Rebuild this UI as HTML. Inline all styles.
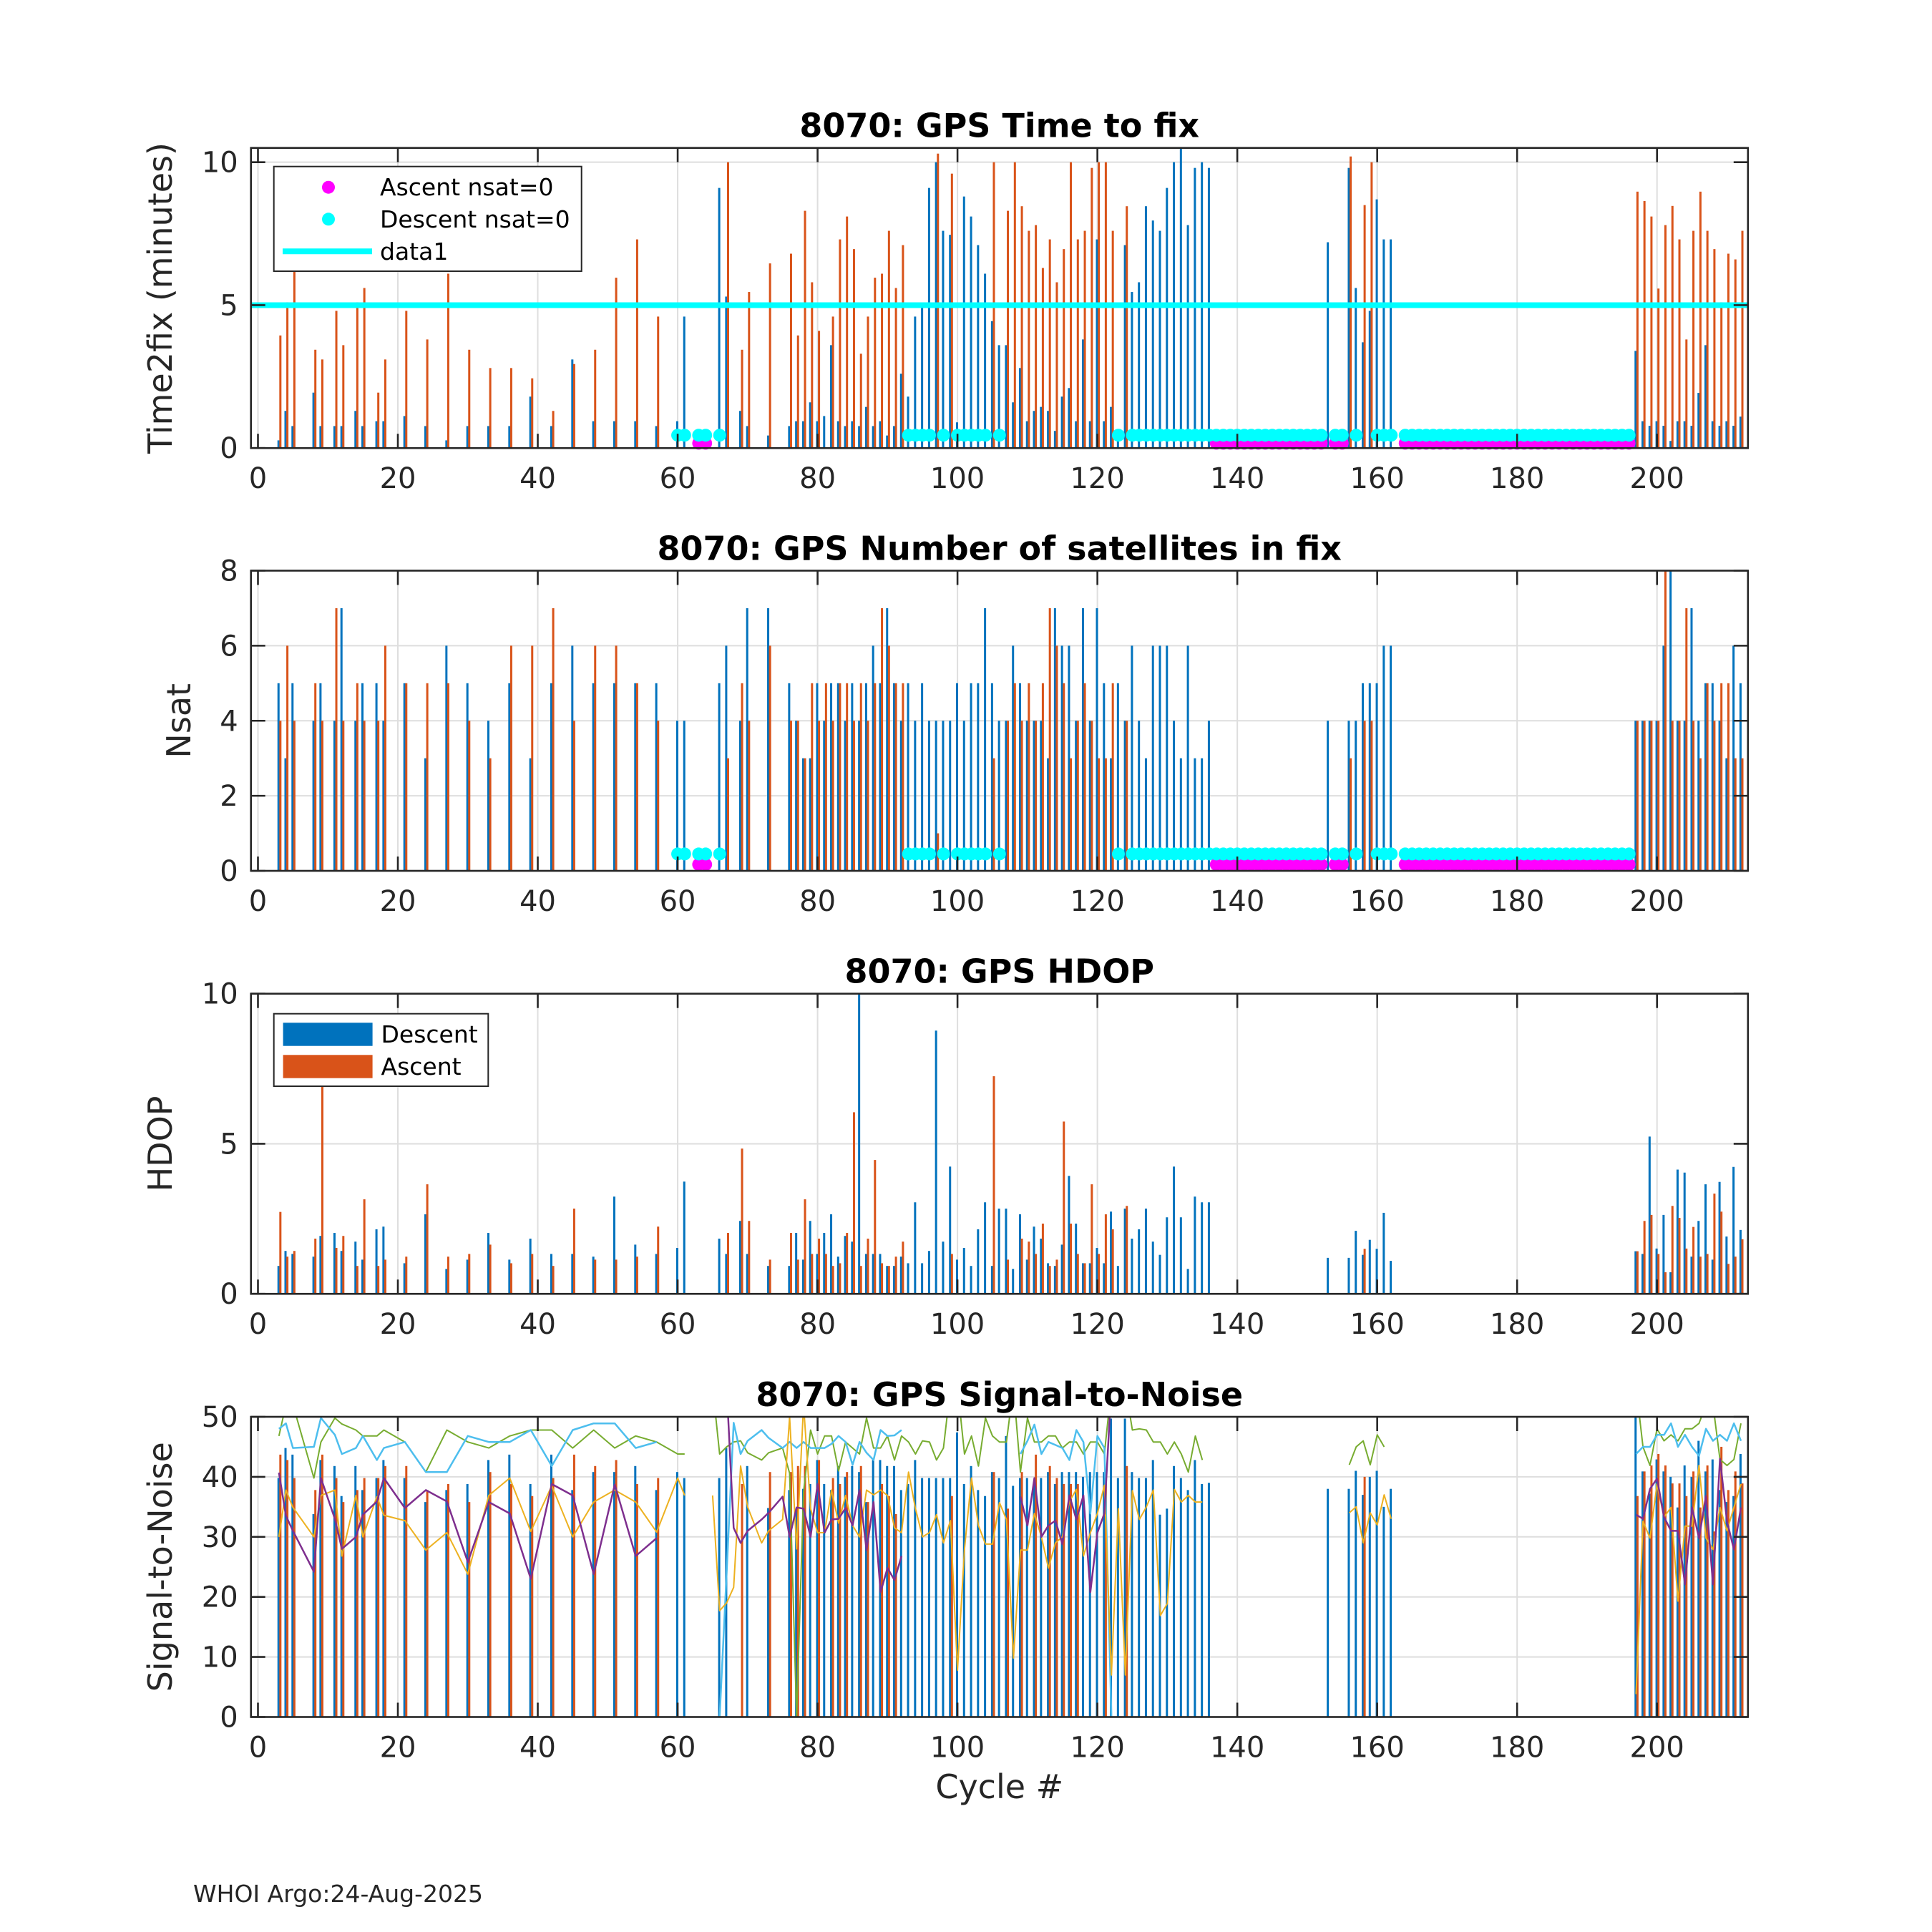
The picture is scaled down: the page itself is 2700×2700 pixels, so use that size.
<!DOCTYPE html>
<html>
<head>
<meta charset="utf-8">
<title>8070 GPS diagnostics</title>
<style>
  html,body{margin:0;padding:0;background:#fff;}
  svg{display:block;}
  text{font-family:"DejaVu Sans","Liberation Sans",sans-serif;fill:#262626;}
</style>
</head>
<body>
<svg id="chart" xmlns="http://www.w3.org/2000/svg" width="2700" height="2700" viewBox="0 0 2700 2700">
  <rect x="0" y="0" width="2700" height="2700" fill="#ffffff"/>
  <defs>
    <clipPath id="clip0"><rect x="350.7" y="206.7" width="2092.1" height="419.5"/></clipPath>
    <clipPath id="clip1"><rect x="350.7" y="797.5" width="2092.1" height="419.5"/></clipPath>
    <clipPath id="clip2"><rect x="350.7" y="1388.7" width="2092.1" height="419.5"/></clipPath>
    <clipPath id="clip3"><rect x="350.7" y="1980" width="2092.1" height="419.5"/></clipPath>
  </defs>
  <text x="270" y="2658" font-size="33">WHOI Argo:24-Aug-2025</text>
  <text x="1396.8" y="2513" font-size="46" text-anchor="middle">Cycle #</text>
</svg>
<script>
// ---------- categories ----------
function range(a,b){const r=[];for(let i=a;i<=b;i++)r.push(i);return r;}
const barCycles = [3,4,5,8,9,11,12,14,15,17,18,21,24,27,30,33,36,39,42,45,48,51,54,57,60,61,
  66,67,69,70,73].concat(range(76,136)).concat([153,156,157,158,159,160,161,162]).concat(range(197,212));
const lineCycles = [3,4,5,8,9,11,12,14,15,17,18,21,24,27,30,33,36,39,42,45,48,51,54,57,60,61,
  63,65,66,67,68,69,70,72,73,75].concat(range(76,136)).concat(range(156,162)).concat(range(197,212));
const xTicks = [0,20,40,60,80,100,120,140,160,180,200];

// ---------- Time to fix ----------
const t2fDescent = [0.27,1.3,0.77,1.94,0.77,0.77,0.77,1.3,0.77,0.94,0.94,1.12,0.77,0.27,0.77,0.77,0.77,1.8,0.77,3.1,0.94,0.94,0.94,0.77,0.94,4.6,
  9.1,5.3,1.3,0.77,0.44,
  0.77,0.94,0.94,1.6,0.94,1.12,3.6,0.94,0.77,0.94,
  0.77,1.44,0.77,0.94,0.44,0.77,2.6,1.8,4.6,4.96,
  9.1,10.0,7.6,7.46,0.9,8.8,8.1,7.1,6.1,4.44,
  3.6,3.6,1.6,2.8,0.94,1.3,1.44,1.3,0.6,1.8,
  2.1,0.94,3.8,0.94,7.3,0.94,1.44,0.5,7.1,5.46,
  5.8,8.46,7.96,7.6,9.1,10.0,10.5,7.8,9.8,10.0,
  9.8,
  7.2,9.8,5.6,3.7,4.8,8.7,7.3,7.3,
  3.4,0.94,0.78,0.94,0.78,0.25,0.94,0.94,0.78,1.93,3.6,0.94,0.78,0.94,0.78,1.1];
const t2fAscent = [3.94,5.1,6.2,3.44,3.1,4.8,3.6,5.1,5.6,1.94,3.1,4.8,3.8,6.1,3.44,2.8,2.8,2.44,1.3,2.94,3.44,5.96,7.3,4.6,null,null,
  null,10.0,3.44,5.46,6.46,
  6.8,3.94,8.3,5.8,4.1,null,4.6,7.3,8.1,6.96,
  3.3,4.6,5.96,6.1,7.6,5.6,7.1,null,null,null,
  null,10.3,null,9.6,null,null,null,null,null,10.0,
  null,8.3,10.0,8.46,7.6,7.8,6.3,7.3,5.8,6.96,
  10.0,7.3,7.6,9.8,10.0,10.0,7.6,null,8.46,null,
  null,null,null,null,null,null,null,null,null,null,
  null,
  null,10.2,null,8.5,10.0,null,null,null,
  8.97,8.64,8.1,5.58,7.8,8.47,7.3,3.8,7.6,8.97,7.6,6.96,5.1,6.8,6.6,7.6];
const timeoutLevel = [5];
const descentZeroCycles = [60,61,63,64,66,93,94,95,96,98,100,101,102,103,104,106,123].concat(range(125,152)).concat([154,155,157,160,161,162]).concat(range(164,196));
const ascentZeroCycles = [63,64].concat(range(137,152)).concat([154,155]).concat(range(164,196));
const descentZeroLevel = 0.45;
const ascentZeroLevel = 0.17;

// ---------- Nsat ----------
const nsatDescent = [5,3,5,4,5,4,7,4,5,5,4,5,3,6,5,4,5,3,5,6,5,5,5,5,4,4,
  5,6,4,7,7,
  5,4,3,3,5,4,5,5,4,5,
  4,5,6,5,7,5,4,5,4,5,
  4,4,4,4,5,4,5,5,7,5,
  4,4,6,5,4,4,4,3,7,6,
  6,4,7,4,7,5,3,5,4,6,
  4,3,6,6,6,4,3,6,3,3,
  4,
  4,4,4,5,5,5,6,6,
  4,4,4,4,6,8,4,4,7,4,5,5,4,3,6,5];
const nsatAscent = [4,6,4,5,4,7,4,5,4,4,6,5,5,5,4,3,6,6,7,4,6,6,5,4,null,null,
  null,3,5,4,6,
  4,4,3,5,4,5,4,5,5,4,
  5,4,5,7,6,5,5,null,null,null,
  null,1,null,null,null,null,null,null,null,3,
  null,4,5,4,5,4,5,7,6,5,
  3,4,5,4,3,3,5,null,4,null,
  null,null,null,null,null,null,null,null,null,null,
  null,
  null,3,null,4,4,null,null,null,
  4,4,4,4,8,4,4,7,4,3,5,4,5,5,3,3];

// ---------- HDOP ----------
const hdopDescent = [0.93,1.43,1.33,1.24,1.93,2.03,1.43,1.74,1.14,2.15,2.24,1.02,2.65,0.83,1.14,2.03,1.14,1.84,1.33,1.33,1.24,3.24,1.64,1.33,1.53,3.74,
  1.84,1.33,2.43,1.33,0.93,
  0.93,2.03,1.14,2.43,1.33,2.03,2.65,1.24,1.93,1.74,
  10.5,1.33,1.33,1.33,0.93,0.93,1.24,1.02,3.05,1.02,
  1.43,8.77,1.74,4.24,1.14,1.53,0.93,2.15,3.05,0.93,
  2.84,2.84,0.83,2.65,1.14,2.24,1.84,1.02,0.93,1.64,
  3.93,2.34,1.02,1.02,1.53,1.02,2.74,0.93,2.84,1.84,
  2.15,2.84,1.74,1.3,2.55,4.24,2.55,0.83,3.24,3.05,
  3.05,
  1.2,1.2,2.1,1.3,1.8,1.5,2.7,1.1,
  1.42,1.33,5.24,1.51,2.63,0.72,4.14,4.04,1.24,2.43,3.65,1.14,3.73,1.91,4.23,2.13];
const hdopAscent = [2.73,1.24,1.43,1.84,7.0,1.53,1.93,0.93,3.15,0.93,1.14,1.24,3.65,1.24,1.33,1.64,1.02,1.33,0.93,2.84,1.14,1.14,1.24,2.24,null,null,
  null,2.03,4.84,2.43,1.14,
  2.03,1.14,3.15,1.33,1.84,1.33,0.93,1.02,2.03,6.05,
  0.93,1.84,4.46,1.02,0.93,1.24,1.74,null,null,null,
  null,null,null,1.33,null,null,null,null,null,7.25,
  null,1.14,null,1.84,1.74,1.33,2.34,0.93,1.14,5.74,
  2.34,1.33,1.02,3.65,1.33,2.65,2.15,null,2.93,null,
  null,null,null,null,null,null,null,null,null,null,
  null,
  null,null,null,1.5,null,null,null,null,
  1.42,2.43,2.63,1.33,0.72,2.93,2.53,1.51,2.23,1.24,1.33,3.34,2.74,1.0,1.24,1.82];

// ---------- Signal-to-noise ----------
const snrDescent = [39.8,44.8,43.7,33.8,42.8,41.8,36.8,41.8,37.8,39.8,42.8,39.8,35.8,37.8,38.8,42.8,43.7,38.8,43.7,37.8,40.8,40.8,41.8,37.8,40.8,39.8,
  39.8,44.8,null,41.8,34.8,
  37.8,34.7,38,38.8,42.8,38.8,37.8,41.8,40,41.8,
  40.8,35.8,42.8,42.8,41.8,41.8,37.8,38.8,42.8,39.8,
  39.8,39.8,39.8,39.8,47.4,38.8,41.8,37.8,36.8,40.8,
  39.8,46.8,38.5,39.8,39.8,38.8,39.8,40.8,38.8,40.8,
  40.8,40.8,40,40.8,40.8,40.8,49.7,39.8,49.7,40.8,
  39.8,39.8,42.8,33.7,34.7,41.8,39.8,37.8,42.8,38.8,
  39,
  38,38,41,37,40,41,35,38,
  50,40.9,37.2,42.9,40.9,40,34.9,41.9,40,46,40.9,42.9,37.8,35.8,36.8,43.8];
const snrAscent = [43.7,42.8,39.8,37.8,43.7,39.8,35.8,37.8,39.8,39.8,41.8,41.8,37.8,38.8,35.8,40.8,38.8,36.8,39.8,43.7,41.8,42.8,38.8,39.8,null,null,
  null,null,38.8,null,40.8,
  40.8,41.8,41.8,null,42.8,null,39.8,38.8,40.8,null,
  41.8,35.8,null,38.8,36.8,33.8,null,null,null,null,
  null,null,null,36.8,null,null,null,null,null,40.8,
  null,34.7,null,40.8,null,43.7,null,41.8,39.8,38.8,
  38.8,38.8,null,null,null,38.8,null,null,41.8,null,
  null,null,null,null,null,null,null,null,null,null,
  null,
  null,null,null,40,null,null,null,null,
  36.8,40.9,41.9,43.8,41.9,38.9,38.9,36.8,40.9,34.9,41.9,30.9,45,37.8,40.9,38.9];
const snrPurple = [40.7,33.5,31,24.2,39.8,33,28,30,33.7,35.9,39.8,34.8,37.8,35.9,25.8,35.8,33.9,23,38.8,36.9,23.8,38.7,26.8,29.8,null,null,
  null,
  null,null,55,31.5,29,31,32.9,34,36.7,
  30,34.9,34.7,30,38.8,30.7,32.9,33,34.8,31.9,
  37.8,27.8,35.8,20.8,24.8,22.8,26.8,null,null,null,
  null,null,null,null,null,null,null,null,null,null,null,null,null,
  36.7,31.9,39.8,30,31.9,32.7,28.8,36.9,32.9,36.9,
  20.8,30.7,33.9,55,
  null,null,null,null,null,null,null,null,null,null,null,null,null,null,
  null,null,null,null,null,null,null,
  33.7,33,38,39.7,33.3,31,31,22.1,34.9,29.8,36.8,22.1,43,32.6,27.9,34.9];
const snrYellow = [30,37.8,34.9,30,36.9,37.8,26.8,36.9,30,36.7,33.6,32.7,27.8,30.7,23.8,36.9,39.8,30.9,38.5,30,35.8,37.8,35.8,30.8,39.8,36.9,
  null,
  36.9,17.7,19,21.6,41.8,35,29,31,32.9,
  50,28,52,34.7,30.7,30.7,37.8,32.3,36.9,31.9,
  30,37.8,37,37.8,36.9,31.5,30.7,40.8,34.7,30,
  30.7,33.7,29,32.7,7.8,28,39.8,31.9,28.8,28.8,
  35.7,32.9,9.8,27.8,27.8,33.9,30,24.8,29,30,
  35.9,37.9,26.8,30.7,33.9,38.6,7,34.7,7,37.7,
  32.9,35,37.8,16.9,18.9,37.9,35.8,36.9,35.8,35.8,
  null,
  34,35,29,34,32,37,33,
  3.8,32.6,29.8,38.8,33.3,34.9,19.3,31.8,31.8,41.9,29.8,27.9,34.9,31,34.9,38.8];
const snrLightBlue = [48,48.9,44.8,45,49.8,47,43.8,44.8,46.8,42.8,44.8,45.8,40.8,40.8,46.8,45.8,45.8,47.8,41.8,47.8,48.9,48.9,44.8,45.8,null,null,
  null,
  null,0,24,49,43.8,46,47.8,46.5,44.8,
  45.8,44.8,45.8,44.8,44.8,44.8,45.5,46.8,45.8,42,
  45.8,44,42.8,47.8,46.8,46.9,47.8,null,null,null,
  null,null,null,null,null,null,null,null,null,null,null,null,null,
  43.8,46,48.7,43.8,45.8,45.3,44.8,42.8,47.8,45.8,
  33.9,46.8,44.8,0,
  null,null,null,null,null,null,null,null,null,null,null,null,null,null,
  null,null,null,null,null,null,null,
  43.8,45,45,47,47,48.9,45,47,45,43.5,48,46,47,46,48.9,46];
const snrGreen = [46.8,52,52,39.8,45.8,49.8,48.8,47.8,46.8,46.8,47.8,45.8,40.8,47.8,45.8,44.8,46.8,47.8,47.8,44.8,47.8,44.8,46.8,45.8,43.8,43.8,
  null,
  55,43.8,45,45.8,46,44,42.8,44,44.8,
  40.6,0,37.5,47.8,43.8,46.8,46.8,41,45.8,44.8,
  43.8,49.8,44.8,44.8,46.8,42.8,46.8,45.8,43.8,46,
  45.8,42.8,44.8,55,55,43.8,46.8,41.8,49.8,46.8,
  45.8,45.8,55,40.8,49.8,45.8,45.8,46.8,46.8,44.8,
  45.8,45.8,43.8,45.8,45.8,43.8,55,55,55,47.8,
  48,47.8,45.8,45.8,43.8,45.8,43.8,40.8,46.8,42.8,
  null,
  42,45,46,42,47,45,null,
  55,45,41.9,48,46,47,46,48,48,48.9,52,52,42.9,41.9,42.9,48.9];

// ---------- layout ----------
const SVGNS = 'http://www.w3.org/2000/svg';
const svg = document.getElementById('chart');
const X0 = 360.5, XS = 9.776, LEFT = 350.7, RIGHT = 2442.8, H = 419.5;
const BLUE = '#0072BD', ORANGE = '#D95319';
const axesCfg = [
  {top:206.7, ymax:10.5, yticks:[0,5,10], title:'8070: GPS Time to fix', ylabel:'Time2fix (minutes)', ylx:240, key:'time-to-fix'},
  {top:797.5, ymax:8, yticks:[0,2,4,6,8], title:'8070: GPS Number of satellites in fix', ylabel:'Nsat', ylx:266, key:'nsat'},
  {top:1388.7, ymax:10, yticks:[0,5,10], title:'8070: GPS HDOP', ylabel:'HDOP', ylx:240, key:'hdop'},
  {top:1980, ymax:50, yticks:[0,10,20,30,40,50], title:'8070: GPS Signal-to-Noise', ylabel:'Signal-to-Noise', ylx:240, key:'snr'}
];
function xp(c){return X0 + c*XS;}
function yp(ax,v){return ax.top + H - v/ax.ymax*H;}
function mk(tag, attrs, parent){
  const e = document.createElementNS(SVGNS, tag);
  for (const k in attrs) e.setAttribute(k, attrs[k]);
  (parent||svg).appendChild(e);
  return e;
}

const groups = [];
axesCfg.forEach(function(ax, i){
  const g = mk('g', {});
  
  
  groups.push(g);
  const bottom = ax.top + H;
  xTicks.forEach(function(t){
    const gl = mk('line', {x1:xp(t), x2:xp(t), y1:ax.top, y2:bottom, stroke:'#dedede', 'stroke-width':2}, g);
    
    
  });
  ax.yticks.forEach(function(t){
    const gl = mk('line', {x1:LEFT, x2:RIGHT, y1:yp(ax,t), y2:yp(ax,t), stroke:'#dedede', 'stroke-width':2}, g);
    
    
  });
  const dg = mk('g', {'clip-path':'url(#clip' + i + ')'}, g);
  
  
  ax.dg = dg;
  ax.g = g;
});

function drawBars(ax, cats, vals, color, off, name){
  cats.forEach(function(c, k){
    const v = vals[k];
    if (v === null || v === undefined) return;
    const y = yp(ax, Math.min(v, ax.ymax*1.02));
    const r = mk('rect', {x:xp(c)+off-1.5, y:y, width:3, height:ax.top+H-y, fill:color}, ax.dg);
    
    
  });
}
function drawLine(ax, cats, vals, color, w, name){
  let seg = [];
  const segs = [];
  cats.forEach(function(c, k){
    const v = vals[k];
    if (v === null || (seg.length && c - seg[seg.length-1][0] > 3)) {
      if (seg.length) segs.push(seg);
      seg = [];
    }
    if (v !== null) seg.push([c, v]);
  });
  if (seg.length) segs.push(seg);
  segs.forEach(function(s){
    if (s.length < 2) return;
    const pts = s.map(function(p){return xp(p[0]).toFixed(1)+','+yp(ax,p[1]).toFixed(1);}).join(' ');
    const pl = mk('polyline', {points:pts, fill:'none', stroke:color, 'stroke-width':w, 'stroke-linejoin':'round'}, ax.dg);
    
    
  });
}
function drawDots(ax, cats, level, color, name){
  cats.forEach(function(c){
    const d = mk('circle', {cx:xp(c), cy:yp(ax, level), r:9, fill:color}, ax.g);
    
    
  });
}

const A1 = axesCfg[0];
drawBars(A1, barCycles, t2fDescent, BLUE, -0.6, 'descent-time-bar');
drawBars(A1, barCycles, t2fAscent, ORANGE, 2.0, 'ascent-time-bar');
timeoutLevel.forEach(function(v){
  const tl = mk('line', {x1:LEFT, x2:RIGHT, y1:yp(A1,v), y2:yp(A1,v), stroke:'#00FFFF', 'stroke-width':8}, A1.dg);
  
  
});
const A2 = axesCfg[1];
drawBars(A2, barCycles, nsatDescent, BLUE, -0.6, 'descent-nsat-bar');
drawBars(A2, barCycles, nsatAscent, ORANGE, 2.0, 'ascent-nsat-bar');
const A3 = axesCfg[2];
drawBars(A3, barCycles, hdopDescent, BLUE, -0.6, 'descent-hdop-bar');
drawBars(A3, barCycles, hdopAscent, ORANGE, 2.0, 'ascent-hdop-bar');
const A4 = axesCfg[3];
drawBars(A4, barCycles, snrDescent, BLUE, -0.6, 'descent-snr-bar');
drawBars(A4, barCycles, snrAscent, ORANGE, 2.0, 'ascent-snr-bar');
drawLine(A4, lineCycles, snrGreen, '#77AC30', 2, 'snr-line-green');
drawLine(A4, lineCycles, snrLightBlue, '#4DBEEE', 2.5, 'snr-line-lightblue');
drawLine(A4, lineCycles, snrYellow, '#EDB120', 2, 'snr-line-yellow');
drawLine(A4, lineCycles, snrPurple, '#7E2F8E', 2.5, 'snr-line-purple');

[A1, A2].forEach(function(ax){
  drawDots(ax, ascentZeroCycles, ascentZeroLevel, '#FF00FF', 'ascent-nsat0-marker');
  drawDots(ax, descentZeroCycles, descentZeroLevel, '#00FFFF', 'descent-nsat0-marker');
});

axesCfg.forEach(function(ax){
  const g = ax.g;
  const bottom = ax.top + H;
  const box = mk('rect', {x:LEFT, y:ax.top, width:RIGHT-LEFT, height:H, fill:'none', stroke:'#262626', 'stroke-width':2.6}, g);
  
  
  xTicks.forEach(function(t){
    const tb = mk('line', {x1:xp(t), x2:xp(t), y1:bottom, y2:bottom-20, stroke:'#262626', 'stroke-width':2.6}, g);
    
    
    const tt = mk('line', {x1:xp(t), x2:xp(t), y1:ax.top, y2:ax.top+20, stroke:'#262626', 'stroke-width':2.6}, g);
    
    
    const lb = mk('text', {x:xp(t), y:bottom+56, 'font-size':40, 'text-anchor':'middle'}, g);
    lb.textContent = t;
    
    
  });
  ax.yticks.forEach(function(t){
    const y = yp(ax, t);
    const tl = mk('line', {x1:LEFT, x2:LEFT+20, y1:y, y2:y, stroke:'#262626', 'stroke-width':2.6}, g);
    
    
    const tr = mk('line', {x1:RIGHT-20, x2:RIGHT, y1:y, y2:y, stroke:'#262626', 'stroke-width':2.6}, g);
    
    
    const lb = mk('text', {x:LEFT-18, y:y+14, 'font-size':40, 'text-anchor':'end'}, g);
    lb.textContent = t;
    
    
  });
  const ti = mk('text', {x:(LEFT+RIGHT)/2, y:ax.top-15, 'font-size':46, 'font-weight':'bold', 'text-anchor':'middle', style:'fill:#000'}, g);
  ti.textContent = ax.title;
  
  
  const cy = ax.top + H/2;
  const yl = mk('text', {x:ax.ylx, y:cy, 'font-size':46, 'text-anchor':'middle', transform:'rotate(-90 '+ax.ylx+' '+cy+')'}, g);
  yl.textContent = ax.ylabel;
  
  
});

(function(){
  const g = mk('g', {});
  
  
  const b = mk('rect', {x:382.7, y:232.7, width:430, height:146.3, fill:'#fff', stroke:'#262626', 'stroke-width':2}, g);
  
  
  const m1 = mk('circle', {cx:459, cy:261.7, r:9, fill:'#FF00FF'}, g);
  
  
  const t1 = mk('text', {x:531, y:273, 'font-size':33, style:'fill:#000'}, g);
  t1.textContent = 'Ascent nsat=0';
  
  
  const m2 = mk('circle', {cx:459, cy:306.3, r:9, fill:'#00FFFF'}, g);
  
  
  const t2 = mk('text', {x:531, y:318, 'font-size':33, style:'fill:#000'}, g);
  t2.textContent = 'Descent nsat=0';
  
  
  const m3 = mk('line', {x1:395, x2:520, y1:351.3, y2:351.3, stroke:'#00FFFF', 'stroke-width':8}, g);
  
  
  const t3 = mk('text', {x:531, y:363, 'font-size':33, style:'fill:#000'}, g);
  t3.textContent = 'data1';
  
  
})();

(function(){
  const g = mk('g', {});
  
  
  const b = mk('rect', {x:382.7, y:1416.7, width:299.6, height:101.3, fill:'#fff', stroke:'#262626', 'stroke-width':2}, g);
  
  
  const s1 = mk('rect', {x:395.6, y:1429.3, width:125, height:32.4, fill:BLUE}, g);
  
  
  const t1 = mk('text', {x:532.5, y:1457, 'font-size':33, style:'fill:#000'}, g);
  t1.textContent = 'Descent';
  
  
  const s2 = mk('rect', {x:395.6, y:1474.3, width:125, height:32.4, fill:ORANGE}, g);
  
  
  const t2 = mk('text', {x:532.5, y:1502, 'font-size':33, style:'fill:#000'}, g);
  t2.textContent = 'Ascent';
  
  
})();
</script>
</body>
</html>
